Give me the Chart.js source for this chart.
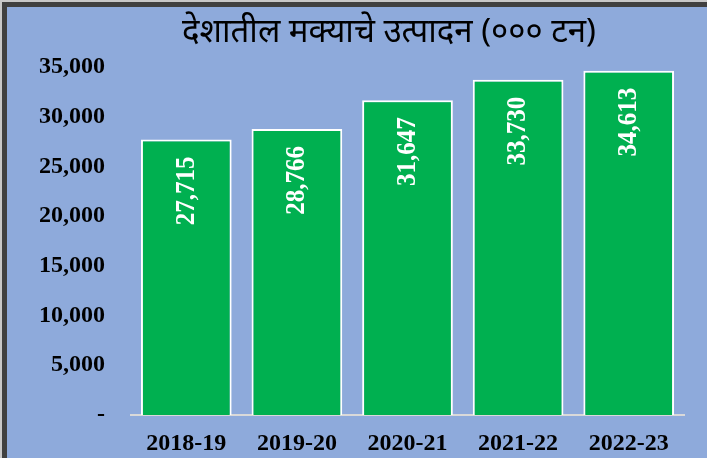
<!DOCTYPE html>
<html>
<head>
<meta charset="utf-8">
<script src="https://cdn.jsdelivr.net/npm/chart.js@4.4.0/dist/chart.umd.min.js"></script>
<style>
    body { margin: 0; background: #c8c8c8; }
    #frame {
        position: absolute; left: 2px; top: 2px;
        width: 700px; height: 451px;
        border-left: 5px solid #404040;
        border-top: 5px solid #404040;
        background: #8eaadb;
    }
    canvas { display: block; }
</style>
</head>
<body>
<div id="frame"><canvas id="myChart" width="700" height="451"></canvas></div>
<script>
var years = ['2018-19', '2019-20', '2020-21', '2021-22', '2022-23'];
var production = [27715, 28766, 31647, 33730, 34613];
var chartTitle = 'देशातील मक्याचे उत्पादन (००० टन)';

function fmt(v) {
    return v === 0 ? '-' : v.toLocaleString('en-US');
}

// title drawn by hand so it can sit left of the plot centre like the original
var titlePlugin = {
    id: 'titleText',
    afterDraw: function (chart) {
        var ctx = chart.ctx;
        ctx.save();
        ctx.fillStyle = '#000';
        ctx.font = '33px "Noto Sans", sans-serif';
        ctx.textAlign = 'center';
        ctx.textBaseline = 'middle';
        ctx.fillText(chartTitle, 382, 26);
        ctx.restore();
    }
};

// vertical value labels inside bars
var valuePlugin = {
    id: 'valueLabels',
    afterDatasetsDraw: function (chart) {
        var ctx = chart.ctx;
        var meta = chart.getDatasetMeta(0);
        ctx.save();
        ctx.fillStyle = '#fff';
        ctx.font = 'bold 25px "Liberation Serif", "Times New Roman", serif';
        meta.data.forEach(function (bar, i) {
            ctx.save();
            ctx.translate(bar.x, bar.y + 17);
            ctx.rotate(-Math.PI / 2);
            ctx.scale(1, 1.12);
            ctx.textAlign = 'right';
            ctx.textBaseline = 'middle';
            ctx.fillText(fmt(production[i]), 0, 0);
            ctx.restore();
        });
        ctx.restore();
    }
};

var ctx = document.getElementById('myChart').getContext('2d');
var myChart = new Chart(ctx, {
    type: 'bar',
    data: {
        labels: years,
        datasets: [{
            data: production,
            backgroundColor: '#00b050',
            borderColor: '#ffffff',
            borderWidth: 2,
            barPercentage: 0.82,
            categoryPercentage: 1
        }]
    },
    options: {
        responsive: false,
        animation: false,
        layout: { padding: { top: 60, right: 23, left: 0, bottom: 0 } },
        plugins: {
            legend: { display: false },
            tooltip: { enabled: false }
        },
        scales: {
            x: {
                grid: { display: false, drawTicks: false },
                border: { display: true, color: '#d9d9d9', width: 2 },
                ticks: {
                    color: '#000',
                    padding: 14,
                    font: { family: '"Liberation Serif", "Times New Roman", serif', size: 24, weight: 'bold' }
                },
                afterFit: function (scale) { scale.height = 43; }
            },
            y: {
                min: 0,
                max: 35000,
                grid: { display: false, drawTicks: false },
                border: { display: false },
                ticks: {
                    stepSize: 5000,
                    color: '#000',
                    padding: 26,
                    callback: function (v) { return fmt(v); },
                    font: { family: '"Liberation Serif", "Times New Roman", serif', size: 24, weight: 'bold' }
                },
                afterFit: function (scale) { scale.width = 124; }
            }
        }
    },
    plugins: [titlePlugin, valuePlugin]
});
</script>
</body>
</html>
